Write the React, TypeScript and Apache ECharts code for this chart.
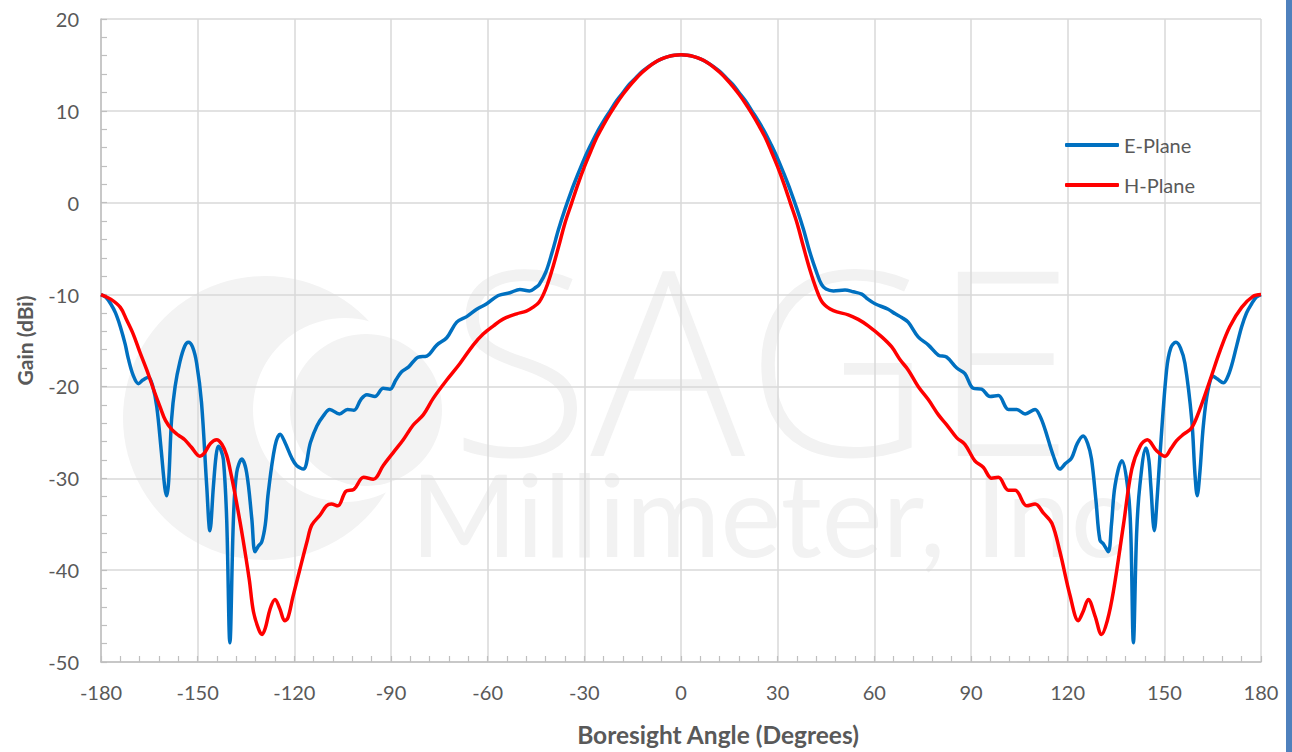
import React, { useEffect, useRef } from "react";
import * as echarts from "echarts";

// E-Plane (angle in degrees, gain in dBi)
const eAngle = [
  -180, -178.5, -177, -175.5, -174, -172.5, -171.5, -170, -168.4, -167,
  -165.3, -164, -162.7, -161.3, -160.2, -159.6, -159, -158.1, -157, -155.5,
  -154, -152.9, -151.6, -150.3, -148.8, -147.2, -146.2, -145.1, -144.3, -143.6,
  -142.8, -142, -141, -140, -138.9, -137.9, -136.3, -134.8, -133.2, -132.2,
  -131.2, -130.1, -129, -128.1, -126, -124.4, -122.9, -120.8, -119.3, -117.2,
  -115, -113, -111, -109, -106, -103.5, -101.5, -99.3, -97.5, -95,
  -92.4, -90.3, -88.5, -86.7, -84.6, -81.5, -78.9, -75.8, -72.7, -69.6,
  -66.5, -63.4, -60.3, -56.7, -53.1, -50, -47, -45, -44, -42,
  -40, -38, -36, -34, -32, -30, -28, -26, -24, -22,
  -20, -18, -16, -14, -12, -10, -8, -6, -4, -2,
  0, 2, 4, 6, 8, 10, 12, 14, 16, 18,
  20, 22, 24, 26, 28, 30, 32, 34, 36, 38,
  40, 42, 43.6, 45, 47.3, 50.9, 53.5, 56.1, 58, 60.2,
  64.3, 66.5, 68.5, 70.5, 73.6, 76.8, 79.9, 82.4, 85.6, 88.1,
  90.7, 93.3, 95.9, 98.5, 101.6, 104.2, 106.8, 109.9, 111.5, 113,
  115.6, 117.6, 119.3, 121.2, 123, 124.8, 126.2, 127.4, 128.8, 130,
  131.2, 132.6, 133.6, 134.7, 136.8, 138.8, 139.6, 140.4, 141.4, 142.4,
  144.3, 145.2, 145.8, 146.9, 147.8, 148.7, 150.7, 152, 153.6, 155,
  156.4, 158.5, 159.5, 160.2, 161, 162.1, 163.5, 165.2, 166.5, 168.3,
  169.6, 170.9, 172.5, 174, 175.5, 177.1, 178.5, 180,
];
const eGain = [
  -10, -10.3, -11.0, -12.0, -13.5, -15.4, -17.0, -18.8, -19.7, -19.3,
  -19.0, -19.9, -22.2, -27.0, -31.0, -31.9, -30.3, -23.6, -20.0, -17.3,
  -15.6, -15.2, -15.7, -17.5, -21.8, -30.8, -35.7, -30.8, -27.6, -26.5,
  -26.9, -28.0, -34.4, -47.9, -34.4, -29.4, -27.9, -29.4, -34.4, -38.0,
  -37.4, -36.9, -35.0, -31.6, -26.5, -25.2, -26.1, -27.8, -28.6, -29.0,
  -26.1, -24.3, -23.2, -22.5, -23.0, -22.5, -22.6, -21.4, -20.9, -21.1,
  -20.2, -20.3, -19.3, -18.4, -17.9, -16.8, -16.7, -15.5, -14.7, -13.0,
  -12.4, -11.6, -11.0, -10.1, -9.8, -9.45, -9.6, -9.2, -8.9, -7.6,
  -5.4, -2.9, -0.7, 1.3, 3.1, 4.8, 6.3, 7.7, 8.9, 10.0,
  11.1, 12.0, 12.9, 13.6, 14.3, 14.85, 15.3, 15.65, 15.9, 16.05,
  16.1, 16.05, 15.9, 15.65, 15.3, 14.85, 14.3, 13.6, 12.9, 12.0,
  11.1, 10.0, 8.9, 7.7, 6.3, 4.8, 3.1, 1.3, -0.7, -2.9,
  -5.4, -7.5, -8.9, -9.4, -9.6, -9.5, -9.7, -9.95, -10.5, -11.0,
  -11.6, -12.1, -12.5, -13.0, -14.6, -15.5, -16.6, -16.8, -18.0, -18.6,
  -20.2, -20.3, -21.1, -21.0, -22.5, -22.5, -23.0, -22.5, -23.3, -24.7,
  -27.6, -29.0, -28.4, -27.8, -26.2, -25.4, -26.2, -27.9, -32.5, -36.7,
  -37.2, -38.0, -35.0, -30.8, -28.1, -31.5, -36.0, -47.9, -36.0, -30.8,
  -26.7, -28.0, -30.8, -35.7, -32.0, -27.2, -18.2, -15.8, -15.2, -15.8,
  -17.5, -23.6, -29.5, -31.9, -29.5, -24.3, -20.5, -18.9, -19.2, -19.6,
  -19.0, -17.7, -15.5, -13.5, -12.0, -11.0, -10.3, -10,
];

// H-Plane
const hAngle = [
  -180, -177, -174, -172, -170, -168, -165.8, -163.5, -161.7, -160,
  -158, -156, -154, -152, -149.3, -148, -146, -144.1, -142.5, -141,
  -139.5, -138, -136, -134, -132.7, -131, -130, -129, -127.5, -126,
  -124.5, -123, -122, -120.5, -118.2, -116, -114.6, -112, -110, -108.5,
  -106.5, -104, -101.5, -98.5, -95.5, -92.4, -89.3, -86.2, -83.1, -80,
  -76.9, -72.7, -68.6, -64.5, -61.4, -58.2, -55.1, -51, -48, -46,
  -44, -42, -40, -38, -36, -34, -32, -30, -28, -26,
  -24, -22, -20, -18, -16, -14, -12, -10, -8, -6,
  -4, -2, 0, 2, 4, 6, 8, 10, 12, 14,
  16, 18, 20, 22, 24, 26, 28, 30, 32, 34,
  36, 38, 40, 42, 44, 47.3, 51.9, 55, 58.1, 62.3,
  65.4, 68, 70.5, 73.6, 76.8, 79.9, 82.4, 85.6, 88.1, 91.2,
  93.8, 96.4, 98.5, 101.6, 103.7, 107.3, 109.9, 112.5, 115.1, 117.6,
  120.7, 123.3, 124.8, 126.4, 128.5, 130.5, 132.3, 134.2, 137.3, 139.9,
  142.5, 144.7, 147.6, 150.2, 152, 153.8, 156, 158.5, 161, 164.2,
  167.3, 170.3, 174, 177.5, 180,
];
const hGain = [
  -10, -10.5, -11.4, -12.8, -14.3, -16.2, -18.2, -20.5, -22.2, -23.7,
  -24.7, -25.3, -25.8, -26.6, -27.6, -27.3, -26.2, -25.8, -26.3, -27.5,
  -29.8, -32.5, -36.5, -41.0, -44.5, -46.5, -47.0, -46.3, -44.2, -43.2,
  -44.2, -45.5, -45.2, -43.0, -39.8, -36.8, -35.1, -34.0, -33.0, -32.8,
  -33.0, -31.4, -31.2, -29.9, -30.1, -28.6, -27.2, -25.8, -24.2, -23.1,
  -21.3, -19.3, -17.5, -15.5, -14.3, -13.4, -12.65, -12.1, -11.8, -11.4,
  -10.8, -9.4, -7.3, -4.8, -2.2, -0.1, 2.0, 3.9, 5.6, 7.2,
  8.5, 9.7, 10.8, 11.8, 12.7, 13.5, 14.2, 14.8, 15.3, 15.65,
  15.9, 16.05, 16.1, 16.05, 15.9, 15.65, 15.3, 14.8, 14.2, 13.5,
  12.7, 11.8, 10.8, 9.7, 8.5, 7.2, 5.6, 3.9, 2.0, -0.1,
  -2.2, -4.8, -7.3, -9.4, -10.9, -11.75, -12.2, -12.7, -13.4, -14.6,
  -15.7, -17.1, -18.2, -20.0, -21.45, -23.1, -24.15, -25.6, -26.3, -28.1,
  -28.8, -30.0, -29.9, -31.3, -31.3, -33.0, -32.8, -33.8, -34.9, -38.0,
  -42.7, -45.5, -44.5, -43.2, -45.0, -47.0, -45.5, -42.3, -35.1, -29.0,
  -26.5, -25.8, -27.0, -27.6, -26.8, -25.9, -25.2, -24.5, -22.5, -19.3,
  -16.1, -13.5, -11.4, -10.2, -10,
];

const seriesNames = ["E-Plane", "H-Plane"];
const seriesColors = ["#0070C0", "#FF0000"];
const xTitle = "Boresight Angle (Degrees)";
const yTitle = "Gain (dBi)";
const watermarkTop = "SAGE";
const watermarkBottom = "Millimeter, Inc";

const FONT = "Lato, 'Noto Sans', sans-serif";
const TXT = "#595959";
const GRIDC = "#D9D9D9";
const AXISC = "#BFBFBF";
const WM = "#F2F2F2";

export default function App() {
  const ref = useRef<HTMLDivElement>(null);
  useEffect(() => {
    if (!ref.current) return;
    const chart = echarts.init(ref.current, undefined, { renderer: "svg" });
    const eData = eAngle.map((a, i) => [a, eGain[i]]);
    const hData = hAngle.map((a, i) => [a, hGain[i]]);
    const axisCommon = {
      type: "value" as const,
      axisLine: { show: true, onZero: false, lineStyle: { color: AXISC, width: 1.5 } },
      axisTick: { show: true, inside: true, length: 6, lineStyle: { color: AXISC, width: 1.2 } },
      minorTick: { show: true, splitNumber: 5, length: 6, lineStyle: { color: AXISC, width: 1.2 } },
      splitLine: { show: true, lineStyle: { color: GRIDC, width: 1.5 } },
      minorSplitLine: { show: false },
      axisLabel: { color: TXT, fontSize: 20, fontFamily: FONT },
      nameLocation: "middle" as const,
    };
    chart.setOption({
      animation: false,
      backgroundColor: "#ffffff",
      grid: { left: 101, right: 31, top: 19, bottom: 84, containLabel: false },
      xAxis: {
        ...axisCommon,
        min: -180,
        max: 180,
        interval: 30,
        name: xTitle,
        nameGap: 60,
        nameTextStyle: {
          color: TXT,
          fontSize: 24.5,
          fontWeight: "bold",
          fontFamily: FONT,
          padding: [0, 0, 0, 74],
        },
        axisLabel: { ...axisCommon.axisLabel, margin: 20 },
      },
      yAxis: {
        ...axisCommon,
        min: -50,
        max: 20,
        interval: 10,
        name: yTitle,
        nameGap: 66,
        nameTextStyle: { color: TXT, fontSize: 21, fontWeight: "bold", fontFamily: FONT },
        axisLabel: { ...axisCommon.axisLabel, margin: 22 },
      },
      legend: {
        data: seriesNames,
        orient: "vertical",
        left: 1065,
        top: 135,
        padding: 0,
        itemWidth: 54,
        itemHeight: 4,
        itemGap: 20,
        icon: "roundRect",
        textStyle: { color: TXT, fontSize: 20, fontFamily: FONT },
      },
      graphic: [
        {
          type: "group",
          z: -1,
          silent: true,
          children: [
            { type: "circle", shape: { cx: 265, cy: 418, r: 142 }, style: { fill: "#F3F3F3" }, z: -1 },
            { type: "circle", shape: { cx: 345, cy: 410, r: 92 }, style: { fill: "#FFFFFF" }, z: -1 },
            { type: "circle", shape: { cx: 366, cy: 410, r: 76 }, style: { fill: "#F3F3F3" }, z: -1 },
            {
              type: "text",
              z: -1,
              style: {
                x: 762,
                y: 356,
                text: watermarkTop,
                fill: WM,
                font: `300 258px 'Open Sans', ${FONT}`,
                lineHeight: 180,
                textAlign: "center",
                textVerticalAlign: "middle",
              },
            },
            {
              type: "text",
              z: -1,
              style: {
                x: 768,
                y: 512,
                text: watermarkBottom,
                fill: WM,
                font: `400 115px ${FONT}`,
                lineHeight: 92,
                textAlign: "center",
                textVerticalAlign: "middle",
              },
            },
          ],
        },
        {
          type: "rect",
          z: 100,
          silent: true,
          shape: { x: 1286, y: 0, width: 6, height: 752 },
          style: { fill: "#4F81BD" },
        },
      ],
      series: [
        {
          name: seriesNames[0],
          type: "line",
          data: eData,
          smooth: 0.35,
          symbol: "none",
          showSymbol: false,
          color: seriesColors[0],
          lineStyle: { color: seriesColors[0], width: 3.5 },
          z: 3,
        },
        {
          name: seriesNames[1],
          type: "line",
          data: hData,
          smooth: 0.35,
          symbol: "none",
          showSymbol: false,
          color: seriesColors[1],
          lineStyle: { color: seriesColors[1], width: 3.5 },
          z: 4,
        },
      ],
    });
    return () => chart.dispose();
  }, []);
  return (
    <div
      ref={ref}
      style={{ position: "fixed", left: 0, top: 0, width: 1292, height: 752 }}
    />
  );
}
